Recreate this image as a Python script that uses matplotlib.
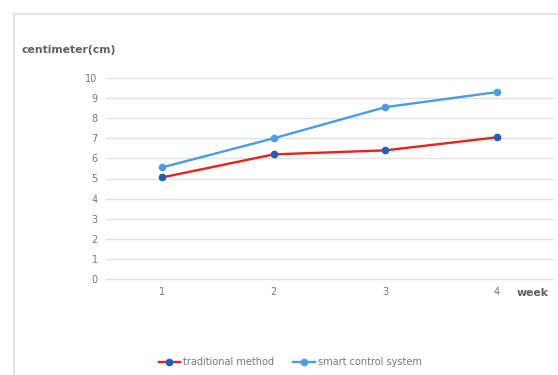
import matplotlib.pyplot as plt
from matplotlib.lines import Line2D

weeks = [1, 2, 3, 4]
traditional = [5.05, 6.2, 6.4, 7.05]
smart = [5.55, 7.0, 8.55, 9.3]
yticks = list(range(0, 11))

fig = plt.figure(figsize=(5.58, 3.75), dpi=100)
ax = fig.add_axes([0.19, 0.256, 0.801, 0.536])

# faint frame around the chart
fig.add_artist(Line2D([14 / 558, 14 / 558], [0, 1 - 14 / 375], color='#e4e4e4', lw=1.5))
fig.add_artist(Line2D([14 / 558, 1], [1 - 14 / 375, 1 - 14 / 375], color='#e4e4e4', lw=1.5))

ax.plot(weeks, traditional, color='#e8231c', lw=1.7, marker='o', ms=4.5,
        mfc='#1f5fb8', mec='#1f5fb8', label='traditional method')
ax.plot(weeks, smart, color='#4a9ce8', lw=1.7, marker='o', ms=4.5,
        mfc='#4a9ce8', mec='#4a9ce8', label='smart control system')

ax.set_xlim(0.5, 4.5)
ax.set_ylim(0, 10)
ax.set_yticks(yticks)
ax.set_xticks(weeks)
ax.grid(axis='y', color='#e2e2e2', lw=1)
for gl in ax.get_ygridlines():
    gl.set_clip_on(False)
ax.set_axisbelow(True)
for s in ax.spines.values():
    s.set_visible(False)
ax.tick_params(length=0, labelsize=7, labelcolor='#777777')
ax.tick_params(axis='x', pad=6)
ax.tick_params(axis='y', pad=6)

fig.text(22 / 558, 1 - 50 / 375, 'centimeter(cm)', fontsize=7.8, color='#444444',
         va='center', ha='left', fontweight='bold', alpha=0.85)
fig.text(517 / 558, 1 - 293 / 375, 'week', fontsize=7.8, color='#444444',
         va='center', ha='left', fontweight='bold', alpha=0.85)

fig.legend(loc='center', bbox_to_anchor=(290 / 558, 1 - 362 / 375), ncol=2,
           frameon=False, fontsize=7, labelcolor='#777777', handlelength=2.2,
           handletextpad=0.3, columnspacing=2)

fig.savefig('out.png', dpi=100)
